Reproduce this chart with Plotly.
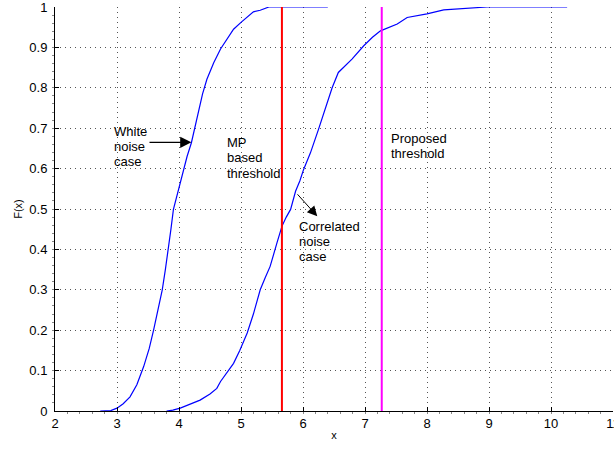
import plotly.graph_objects as go

# ---- data ----
white_x = [2.73, 2.9, 3.0, 3.1, 3.21, 3.32, 3.43, 3.52, 3.59, 3.66, 3.73, 3.78, 3.83, 3.87,
           3.91, 3.97, 4.02, 4.07, 4.13, 4.2, 4.26, 4.32, 4.38, 4.45, 4.56, 4.67, 4.78, 4.88,
           5.0, 5.10, 5.2, 5.31, 5.45, 6.4]
white_y = [0, 0.001, 0.007, 0.018, 0.035, 0.065, 0.11, 0.155, 0.2, 0.25, 0.30, 0.35, 0.40, 0.45,
           0.499, 0.535, 0.565, 0.598, 0.63, 0.664, 0.705, 0.747, 0.785, 0.821, 0.862, 0.896, 0.922, 0.945,
           0.962, 0.974, 0.988, 0.992, 1.0, 1.0]

corr_x = [3.8, 3.9, 4.02, 4.15, 4.34, 4.5, 4.61, 4.67, 4.78, 4.88, 4.98, 5.10, 5.2, 5.31, 5.39,
          5.47, 5.58, 5.66, 5.73, 5.80, 5.88, 5.95, 6.01, 6.12, 6.25, 6.36, 6.47, 6.57, 6.68, 6.79,
          6.98, 7.12, 7.25, 7.4, 7.52, 7.68, 7.85, 8.0, 8.27, 8.7, 8.97, 10.26]
corr_y = [0, 0.002, 0.007, 0.015, 0.027, 0.042, 0.056, 0.073, 0.095, 0.118, 0.15, 0.193, 0.24, 0.30, 0.33,
          0.358, 0.416, 0.457, 0.48, 0.499, 0.544, 0.57, 0.598, 0.639, 0.697, 0.747, 0.80, 0.838, 0.855, 0.871,
          0.904, 0.925, 0.941, 0.95, 0.958, 0.974, 0.978, 0.983, 0.993, 0.998, 1.0, 1.0]

mp_threshold = 5.66
proposed_threshold = 7.27

x_ticks = [2, 3, 4, 5, 6, 7, 8, 9, 10, 11]
y_ticks = [0, 0.1, 0.2, 0.3, 0.4, 0.5, 0.6, 0.7, 0.8, 0.9, 1]
y_tick_text = ["0", "0.1", "0.2", "0.3", "0.4", "0.5", "0.6", "0.7", "0.8", "0.9", "1"]

white_label = ["White", "noise", "case"]
mp_label = ["MP", "based", "threshold"]
corr_label = ["Correlated", "noise", "case"]
prop_label = ["Proposed", "threshold"]

# ---- figure ----
FONT = "Liberation Sans, Arial, Helvetica, sans-serif"
fig = go.Figure()
fig.add_trace(go.Scatter(x=white_x, y=white_y, mode="lines",
                         line=dict(color="#0000ff", width=1.2), showlegend=False, cliponaxis=False))
fig.add_trace(go.Scatter(x=corr_x, y=corr_y, mode="lines",
                         line=dict(color="#0000ff", width=1.2), showlegend=False, cliponaxis=False))
fig.add_trace(go.Scatter(x=[mp_threshold, mp_threshold], y=[0, 1], mode="lines",
                         line=dict(color="#ff0000", width=2), showlegend=False, cliponaxis=False))
fig.add_trace(go.Scatter(x=[proposed_threshold, proposed_threshold], y=[0, 1], mode="lines",
                         line=dict(color="#ff00ff", width=2), showlegend=False, cliponaxis=False))

# pixel helpers for positioning text blocks (plot area: x 55..613, y 7..411)
def px2x(px):
    return 2 + (px - 54.7) / 62.0

def py2y(py):
    return (411 - py) / 403.0

annos = []
def text_block(lines, left_px, first_center_py, spacing=15.3):
    for i, t in enumerate(lines):
        annos.append(dict(x=px2x(left_px), y=py2y(first_center_py + i * spacing),
                          xref="x", yref="y", text=t, showarrow=False,
                          xanchor="left", yanchor="middle", borderpad=0, borderwidth=0,
                          font=dict(family=FONT, size=13, color="#000000")))

text_block(white_label, 113.5, 131.7)
text_block(mp_label, 226.3, 143.3)
text_block(corr_label, 299.0, 226.7)
text_block(prop_label, 390.6, 139.3)

# arrows
annos.append(dict(x=4.2, y=0.665, ax=3.5, ay=0.665, xref="x", yref="y", axref="x", ayref="y",
                  text="", showarrow=True, arrowhead=2, arrowsize=1.6, arrowwidth=1.4,
                  arrowcolor="#000000"))
annos.append(dict(x=6.23, y=0.482, ax=5.89, ay=0.54, xref="x", yref="y", axref="x", ayref="y",
                  text="", showarrow=True, arrowhead=2, arrowsize=2, arrowwidth=1,
                  arrowcolor="#000000"))

grid_common = dict(showgrid=True, gridcolor="#555555", gridwidth=1, griddash="1px,4px",
                   showline=True, linecolor="#000000", linewidth=1,
                   ticks="inside", ticklen=4, tickcolor="#000000",
                   tickfont=dict(family=FONT, size=13, color="#000000"),
                   zeroline=False, mirror=False, automargin=False,
                   ticklabeloverflow="allow")

fig.update_xaxes(range=[2, 11], tickvals=x_ticks, ticktext=[str(v) for v in x_ticks],
                 title=dict(text="x", font=dict(family=FONT, size=11, color="#000000"), standoff=1),
                 ticklabelstandoff=0,
                 minor=dict(ticks="outside", ticklen=2, tickcolor="#888888", dtick=0.2, showgrid=False),
                 **grid_common)
fig.update_yaxes(range=[0, 1], tickvals=y_ticks, ticktext=y_tick_text,
                 title=dict(text="F(x)", font=dict(family=FONT, size=11, color="#000000"), standoff=4),
                 ticklabelstandoff=4,
                 minor=dict(ticks="outside", ticklen=2, tickcolor="#888888", dtick=0.02, showgrid=False),
                 **grid_common)

fig.update_layout(width=614, height=449, margin=dict(l=55, r=1, t=7, b=38, autoexpand=False),
                  plot_bgcolor="#ffffff", paper_bgcolor="#ffffff",
                  annotations=annos, showlegend=False,
                  font=dict(family=FONT, color="#000000"))

fig.write_html("out.html", config={"displayModeBar": False},
               post_script="document.body.style.margin='0';document.body.style.overflow='hidden';")
